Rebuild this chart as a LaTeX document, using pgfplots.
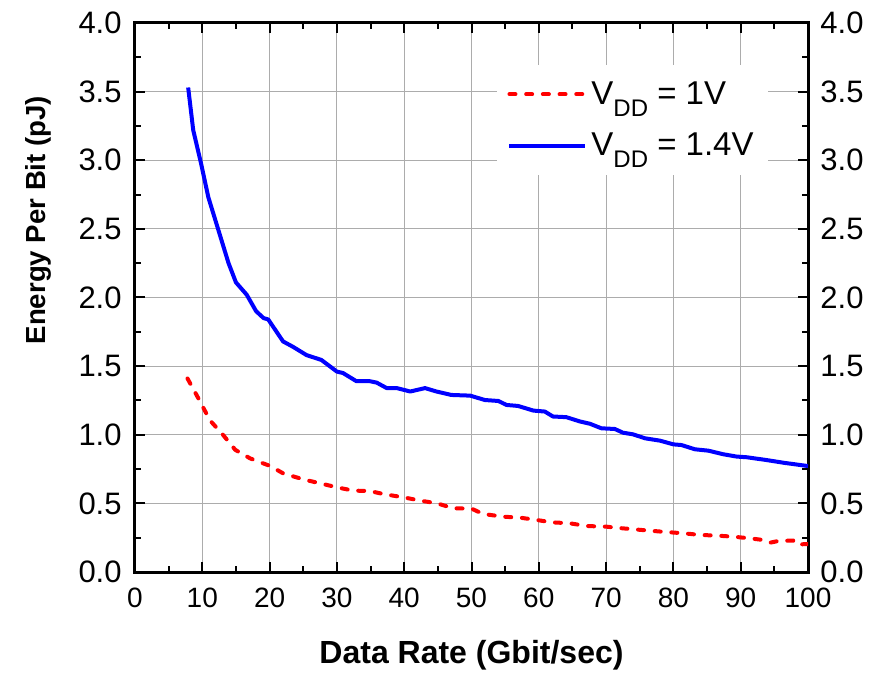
\documentclass[border=0pt]{standalone}
\usepackage{fontspec}
\setmainfont{Liberation Sans}
\usepackage{pgfplots}
\pgfplotsset{compat=1.18}

\pgfplotsset{
  ebit/.style={
    width=336.5pt, height=274.5pt, scale only axis,
    xmin=0, xmax=100, ymin=0, ymax=4,
    xtick={0,10,...,100}, ytick={0,0.5,...,4},
    minor x tick num=1, minor y tick num=1,
    tick align=inside,
    major tick length=5pt, minor tick length=3pt,
    every tick/.style={black, line width=1pt},
    axis line style={line width=1.5pt},
    /pgf/number format/assume math mode=true,
    yticklabel style={/pgf/number format/fixed, /pgf/number format/fixed zerofill,
      /pgf/number format/precision=1, font=\fontsize{15.5}{18}\selectfont, inner xsep=0pt},
    xticklabel style={font=\fontsize{14}{17}\selectfont, anchor=base, yshift=-17.5pt},
  }
}

\begin{document}
\begin{tikzpicture}
\begin{axis}[ebit, name=main,
    grid=major,
    major grid style={gray!65, line width=0.6pt},
    yticklabel style={xshift=-6.5pt},
    xlabel={Data Rate (Gbit/sec)},
    ylabel={Energy Per Bit (pJ)},
    xlabel style={at={(rel axis cs:0.5,0)}, anchor=base, yshift=-45.5pt,
      font=\bfseries\fontsize{16}{19}\selectfont},
    ylabel style={at={([xshift=-48.5pt]rel axis cs:0,0.641)}, anchor=center,
      font=\bfseries\fontsize{13.8}{16}\selectfont},
    legend style={at={(0.538,0.9235)}, anchor=north west, draw=none, fill=white,
      font=\fontsize{16.5}{19}\selectfont, inner xsep=5pt, inner ysep=6pt,
      row sep=9pt},
    legend cell align=left,
    legend image code/.code={\draw[#1] (0pt,0pt) -- (38pt,0pt);},
  ]
\addplot[red, line width=2pt, line cap=round, dash pattern=on 3pt off 5.35pt] coordinates {
  (7.8,1.41) (9.7,1.24) (11.1,1.107) (13.1,0.998) (14.9,0.89) (17.1,0.828)
  (20.1,0.772) (22.0,0.719) (25.0,0.675) (27.5,0.646) (30.0,0.617) (32.4,0.593)
  (34.9,0.59) (36.9,0.568) (39.9,0.544) (42.4,0.52) (44.9,0.50) (47.3,0.464)
  (50.0,0.462) (51.7,0.423) (54.7,0.403) (57.2,0.396) (59.7,0.379) (61.9,0.362)
  (64.6,0.355) (67.1,0.335) (70.1,0.33) (72.5,0.318) (76.5,0.301) (79.0,0.291)
  (81.5,0.282) (84.0,0.27) (86.5,0.265) (89.0,0.257) (91.4,0.245) (93.4,0.233)
  (94.4,0.214) (95.8,0.228) (97.8,0.228) (98.3,0.200) (100,0.204)
};
\addlegendentry{V\raisebox{-6pt}{\fontsize{12}{14}\selectfont DD} = 1V}
\addplot[blue, line width=2pt, line join=round] coordinates {
  (7.9,3.53) (8.65,3.22) (9.8,2.98) (10.9,2.73) (12.4,2.49) (13.9,2.25)
  (15.0,2.11) (16.6,2.02) (18.0,1.90) (19.1,1.85) (19.8,1.84) (22.0,1.68)
  (23.5,1.64) (25.5,1.58) (27.7,1.545) (30.0,1.46) (30.9,1.45) (32.9,1.39)
  (34.9,1.39) (35.9,1.38) (37.4,1.34) (38.9,1.34) (40.9,1.315) (43.1,1.34)
  (44.8,1.315) (47.0,1.29) (49.8,1.285) (52.0,1.253) (54.0,1.246) (55.2,1.217)
  (56.9,1.21) (59.2,1.176) (60.9,1.169) (62.1,1.133) (64.1,1.128) (66.1,1.097)
  (67.6,1.08) (69.3,1.047) (71.3,1.042) (72.5,1.015) (74.0,1.003) (75.8,0.974)
  (78.0,0.957) (80.0,0.93) (81.2,0.925) (83.2,0.894) (85.2,0.884) (87.4,0.858)
  (89.4,0.841) (90.9,0.836) (93.8,0.816) (96.5,0.795) (100,0.772)
};
\addlegendentry{V\raisebox{-6pt}{\fontsize{12}{14}\selectfont DD} = 1.4V}
\end{axis}
\begin{axis}[ebit,
    axis line style={draw=none}, every tick/.style={draw=none},
    xtick=\empty, yticklabel pos=right,
    yticklabel style={xshift=6pt},
  ]
\addplot[draw=none] coordinates {(0,0)};
\end{axis}
\path ([xshift=-67.5pt,yshift=-49pt]main.south west) rectangle ([xshift=32.5pt,yshift=11.5pt]main.north east);
\end{tikzpicture}
\end{document}
